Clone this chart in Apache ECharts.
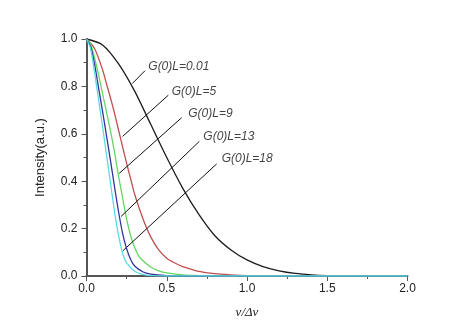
<!DOCTYPE html>
<html><head><meta charset="utf-8">
<script src="https://cdn.jsdelivr.net/npm/echarts@6/dist/echarts.min.js"></script>
<style>html,body{margin:0;padding:0;background:#fff}#c{width:474px;height:332px}</style>
</head><body><div id="c"></div>
<script>
// ---- data ----
var seriesNames = ['G(0)L=0.01','G(0)L=5','G(0)L=9','G(0)L=13','G(0)L=18'];
var blackX = [0,0.1,0.2,0.3,0.4,0.5,0.6,0.7,0.8,0.9,1.0,1.1,1.2,1.3,1.4,1.5,1.6,1.8,2.0];
var blackY = [1,0.975,0.895,0.78,0.64,0.50,0.37,0.26,0.17,0.11,0.068,0.04,0.022,0.011,0.005,0.002,0.001,0,0];
var redX = [0,0.05,0.1,0.125,0.15,0.175,0.2,0.225,0.25,0.275,0.3,0.35,0.4,0.45,0.5,0.55,0.6,0.7,0.8,0.9,1.0,1.2,1.5,2.0];
var redY = [1,0.96,0.87,0.81,0.75,0.685,0.615,0.545,0.475,0.41,0.345,0.245,0.165,0.11,0.075,0.055,0.04,0.02,0.01,0.005,0.002,0,0,0];
var greenX = [0,0.025,0.05,0.075,0.1,0.125,0.15,0.175,0.2,0.225,0.25,0.275,0.3,0.325,0.35,0.4,0.45,0.5,0.6,0.7,0.8,1.0,1.5,2.0];
var greenY = [1,0.98,0.92,0.85,0.77,0.69,0.61,0.52,0.42,0.33,0.24,0.17,0.12,0.085,0.065,0.038,0.022,0.013,0.005,0.002,0,0,0,0];
var blueX = [0,0.025,0.05,0.075,0.1,0.125,0.15,0.175,0.2,0.225,0.25,0.275,0.3,0.35,0.4,0.5,0.6,1.0,2.0];
var blueY = [1,0.97,0.895,0.795,0.695,0.59,0.485,0.375,0.27,0.18,0.115,0.07,0.042,0.018,0.008,0.002,0,0,0];
var cyanX = [0,0.025,0.05,0.075,0.1,0.125,0.15,0.175,0.2,0.225,0.25,0.3,0.35,0.4,0.5,1.0,2.0];
var cyanY = [1,0.96,0.86,0.745,0.63,0.51,0.39,0.27,0.17,0.095,0.055,0.02,0.007,0.002,0,0,0];
var xTicks = [0, 0.5, 1.0, 1.5, 2.0];
var yTicks = [0, 0.2, 0.4, 0.6, 0.8, 1.0];

// annotation placement (data units)
var annoTextAt = [[0.385,0.883],[0.531,0.777],[0.634,0.685],[0.728,0.586],[0.842,0.494]];
var arrowFrom = [[0.364,0.866],[0.510,0.763],[0.593,0.668],[0.703,0.568],[0.811,0.473]];
var arrowTo = [[0.285,0.812],[0.225,0.589],[0.204,0.433],[0.215,0.251],[0.226,0.106]];

var colors = ['#1c1c1c','#c24e4e','#62d862','#34349c','#5cdbe2'];
var xsList = [blackX, redX, greenX, blueX, cyanX];
var ysList = [blackY, redY, greenY, blueY, cyanY];

function pairs(xs, ys){ return xs.map(function(x,i){ return [x, ys[i]]; }); }

var series = xsList.map(function(xs, k){
  return {
    name: seriesNames[k], type: 'line', data: pairs(xs, ysList[k]),
    showSymbol: false, smooth: 0.3,
    lineStyle: {color: colors[k], width: 1.3}, z: 2 + k
  };
});

series.push({
  type: 'scatter', symbolSize: 0, z: 20,
  data: annoTextAt.map(function(p, i){ return {value: p, name: seriesNames[i]}; }),
  label: {show: true, position: 'right', distance: 0, formatter: '{b}',
    fontStyle: 'italic', fontSize: 12, fontFamily: 'Liberation Sans, Arial, sans-serif', color: '#111'},
  markLine: {
    silent: true, animation: false, symbol: ['none','arrow'], symbolSize: [0, 9],
    lineStyle: {color: '#111', width: 1, type: 'solid'}, label: {show: false},
    data: arrowFrom.map(function(p, i){ return [{coord: p}, {coord: arrowTo[i]}]; })
  }
});

var chart = echarts.init(document.getElementById('c'), null, {renderer: 'canvas'});
chart.setOption({
  animation: false,
  backgroundColor: '#ffffff',
  grid: {left: 86.5, right: 66.5, top: 39, bottom: 56},
  xAxis: {
    type: 'value', min: xTicks[0], max: xTicks[xTicks.length-1], interval: 0.5,
    name: 'ν/Δν', nameLocation: 'middle', nameGap: 30,
    nameTextStyle: {fontFamily: 'Liberation Serif, Times New Roman, serif', fontStyle: 'italic', fontSize: 13, color: '#222'},
    axisLine: {lineStyle: {color: '#555', width: 2}},
    axisTick: {show: true, length: 5, lineStyle: {color: '#555'}},
    minorTick: {show: true, splitNumber: 2, length: 3, lineStyle: {color: '#555'}},
    splitLine: {show: false},
    axisLabel: {margin: 7, fontSize: 12, color: '#222', fontFamily: 'Liberation Sans, Arial, sans-serif',
      formatter: function(v){ return v.toFixed(1); }}
  },
  yAxis: {
    type: 'value', min: yTicks[0], max: yTicks[yTicks.length-1], interval: 0.2,
    name: 'Intensity(a.u.)', nameLocation: 'middle', nameGap: 40,
    nameTextStyle: {fontFamily: 'Liberation Sans, Arial, sans-serif', fontSize: 13, color: '#222'},
    axisLine: {show: true, lineStyle: {color: '#555', width: 2}},
    axisTick: {show: true, length: 5, lineStyle: {color: '#555'}},
    minorTick: {show: true, splitNumber: 2, length: 3, lineStyle: {color: '#555'}},
    splitLine: {show: false},
    axisLabel: {margin: 9, fontSize: 12, color: '#222', fontFamily: 'Liberation Sans, Arial, sans-serif',
      formatter: function(v){ return v.toFixed(1); }}
  },
  series: series
});
</script></body></html>
